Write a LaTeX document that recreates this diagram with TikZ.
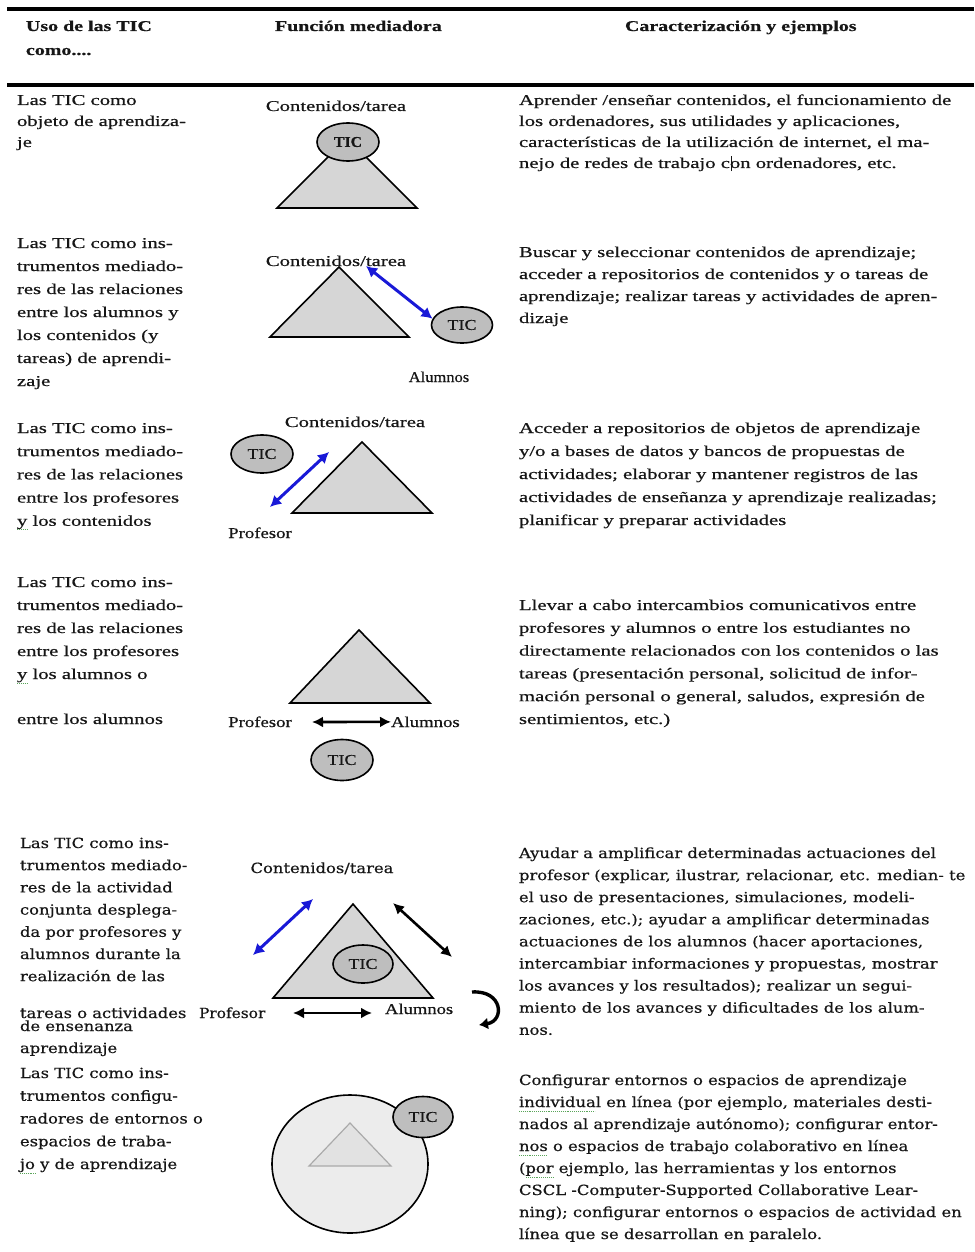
\documentclass[tikz,border=0pt]{standalone}
\usepackage{fontspec}
\setmainfont{Liberation Serif}[FakeBold=0.45]
\newfontfamily\dejaserif{DejaVu Serif}[FakeBold=0.45]
\usepackage{graphicx}
\usetikzlibrary{shapes.geometric,arrows.meta}
\definecolor{trifill}{RGB}{214,214,214}
\definecolor{ticfill}{RGB}{190,190,190}
\definecolor{arrblue}{RGB}{25,25,215}
\definecolor{envfill}{RGB}{236,236,236}
\definecolor{innerline}{RGB}{170,170,170}
\definecolor{innerfill}{RGB}{226,226,226}
\definecolor{txtcol}{RGB}{22,22,22}
\definecolor{spellgreen}{RGB}{90,165,90}
\newcommand\fTimes{\fontsize{15}{18}\selectfont}
\newcommand\fTimesB{\fontsize{15}{18}\selectfont\bfseries}
\newcommand\fDeja{\dejaserif\fontsize{14}{17}\selectfont}
\newcommand\tblock[7]{%
  \foreach \tline [count=\i] in {#7} {%
    \node[txt, font=#2, anchor=base west] (#1-\i) at (#4, {#5+(\i-1)*#6}) {\scalebox{#3}[1]{\tline}};
  }%
}
\begin{document}
\begin{tikzpicture}[x=1pt, y=-1pt,
  txt/.style={inner sep=0pt, outer sep=0pt, text=txtcol},
  lbl/.style={txt, anchor=base},
  hrule/.style={line width=3.5pt, draw=black},
  tri/.style={draw=black, line width=1.6pt, fill=trifill, line join=miter},
  tic/.style={ellipse, draw=black, line width=1.6pt, fill=ticfill, inner sep=0pt, font=\fTimes, text=txtcol},
  env/.style={ellipse, draw=black, line width=1.6pt, fill=envfill, inner sep=0pt},
  innertri/.style={draw=innerline, line width=1.2pt, fill=innerfill},
  bluearr/.style={draw=arrblue, line width=3pt, arrows={Latex[length=11pt,width=12pt]-Latex[length=11pt,width=12pt]}},
  blackarr/.style={draw=black, line width=2.6pt, arrows={Latex[length=11pt,width=11pt]-Latex[length=11pt,width=11pt]}},
  turnarr/.style={draw=black, line width=3.4pt, arrows={-Latex[length=9pt,width=12pt]}},
  spell/.style={draw=spellgreen, line width=0.9pt, densely dotted}
]
\useasboundingbox (0,0) rectangle (974,1252);
\fill[white] (0,0) rectangle (974,1252);

% header rules
\coordinate (r1a) at (7,9);   \coordinate (r1b) at (974,9);
\coordinate (r2a) at (7,85);  \coordinate (r2b) at (974,85);
\draw[hrule] (r1a) -- (r1b);
\draw[hrule] (r2a) -- (r2b);

% header
\node[txt, font=\fTimesB, anchor=base west] (h1) at (26,31) {\scalebox{1.33}[1]{Uso de las TIC}};
\node[txt, font=\fTimesB, anchor=base west] (h1b) at (26,55) {\scalebox{1.33}[1]{como....}};
\node[txt, font=\fTimesB, anchor=base west] (h2) at (275,31) {\scalebox{1.33}[1]{Función mediadora}};
\node[txt, font=\fTimesB, anchor=base west] (h3) at (625,31) {\scalebox{1.33}[1]{Caracterización y ejemplos}};

% ---------- row 1 ----------
\tblock{l1}{\fTimes}{1.38}{17}{105}{21}{{Las TIC como},{objeto de aprendiza-},{je}}
\tblock{c1}{\fTimes}{1.38}{519}{105}{21}{{Aprender /enseñar contenidos, el funcionamiento de},{los ordenadores, sus utilidades y aplicaciones,},{características de la utilización de internet, el ma-},{nejo de redes de trabajo c\rlap{\kern0.5pt\rule[-3pt]{0.8pt}{15pt}}on ordenadores, etc.}}
\coordinate (t1a) at (277,208); \coordinate (t1b) at (347,138); \coordinate (t1c) at (417,208);
\draw[tri] (t1a) -- (t1b) -- (t1c) -- cycle;
\node[lbl, font=\fTimes] (m1lab) at (336,111) {\scalebox{1.38}[1]{Contenidos/tarea}};
\node[tic, minimum width=62pt, minimum height=38pt, font=\fTimesB] (tic1) at (348,142) {\scalebox{1.05}[1]{TIC}};

% ---------- row 2 ----------
\tblock{l2}{\fTimes}{1.38}{17}{248}{23}{{Las TIC como ins-},{trumentos mediado-},{res de las relaciones},{entre los alumnos y},{los contenidos (y},{tareas) de aprendi-},{zaje}}
\tblock{c2}{\fTimes}{1.38}{519}{257}{22}{{Buscar y seleccionar contenidos de aprendizaje;},{acceder a repositorios de contenidos y o tareas de},{aprendizaje; realizar tareas y actividades de apren-},{dizaje}}
\coordinate (t2a) at (270,337); \coordinate (t2b) at (339,267); \coordinate (t2c) at (409,337);
\draw[tri] (t2a) -- (t2b) -- (t2c) -- cycle;
\node[lbl, font=\fTimes] (m2lab) at (336,266) {\scalebox{1.38}[1]{Contenidos/tarea}};
\node[tic, minimum width=61pt, minimum height=36pt] (tic2) at (462,325) {\scalebox{1.2}[1]{TIC}};
\node[lbl, font=\fTimes] (al2) at (439,382) {\scalebox{1.1}[1]{Alumnos}};
\coordinate (a2s) at (366,266);
\draw[bluearr] (a2s) -- (tic2.168);

% ---------- row 3 ----------
\tblock{l3}{\fTimes}{1.38}{17}{433}{23.2}{{Las TIC como ins-},{trumentos mediado-},{res de las relaciones},{entre los profesores},{y los contenidos}}
\tblock{c3}{\fTimes}{1.38}{519}{433}{23}{{Acceder a repositorios de objetos de aprendizaje},{y/o a bases de datos y bancos de propuestas de},{actividades; elaborar y mantener registros de las},{actividades de enseñanza y aprendizaje realizadas;},{planificar y preparar actividades}}
\coordinate (t3a) at (292,513); \coordinate (t3b) at (362,442); \coordinate (t3c) at (432,513);
\draw[tri] (t3a) -- (t3b) -- (t3c) -- cycle;
\node[lbl, font=\fTimes] (m3lab) at (355,427) {\scalebox{1.38}[1]{Contenidos/tarea}};
\node[tic, minimum width=62pt, minimum height=38pt] (tic3) at (262,454) {\scalebox{1.2}[1]{TIC}};
\node[lbl, font=\fTimes] (pr3) at (260,538) {\scalebox{1.25}[1]{Profesor}};
\coordinate (a3s) at (329,452); \coordinate (a3e) at (270,507);
\draw[bluearr] (a3s) -- (a3e);
\draw[spell] ([yshift=-4pt]l3-5.base west) -- ++(10,0);

% ---------- row 4 ----------
\tblock{l4}{\fTimes}{1.38}{17}{587}{23}{{Las TIC como ins-},{trumentos mediado-},{res de las relaciones},{entre los profesores},{y los alumnos o}}
\node[txt, font=\fTimes, anchor=base west] (l4b) at (17,724) {\scalebox{1.38}[1]{entre los alumnos}};
\tblock{c4}{\fTimes}{1.38}{519}{610}{22.8}{{Llevar a cabo intercambios comunicativos entre},{profesores y alumnos o entre los estudiantes no},{directamente relacionados con los contenidos o las},{tareas (presentación personal, solicitud de infor-},{mación personal o general, saludos, expresión de},{sentimientos, etc.)}}
\coordinate (t4a) at (290,703); \coordinate (t4b) at (359,630); \coordinate (t4c) at (430,703);
\draw[tri] (t4a) -- (t4b) -- (t4c) -- cycle;
\node[lbl, font=\fTimes] (pr4) at (260,727) {\scalebox{1.25}[1]{Profesor}};
\node[txt, font=\fTimes, anchor=base west] (al4) at (391,727) {\scalebox{1.25}[1]{Alumnos}};
\node[tic, minimum width=62pt, minimum height=41pt] (tic4) at (342,760) {\scalebox{1.2}[1]{TIC}};
\coordinate (a4s) at (312,722);
\draw[blackarr] (a4s) -- (al4.west);
\draw[spell] ([yshift=-4pt]l4-5.base west) -- ++(10,0);

% ---------- row 5 ----------
\tblock{l5}{\fDeja}{1.17}{20}{848}{22.2}{{Las TIC como ins-},{trumentos mediado-},{res de la actividad},{conjunta desplega-},{da por profesores y},{alumnos durante la},{realización de las}}
\node[txt, font=\fDeja, anchor=base west] (l5b) at (20,1018) {\scalebox{1.17}[1]{tareas o actividades}};
\node[txt, font=\fDeja, anchor=base west] (l5c) at (20,1031) {\scalebox{1.17}[1]{de ensenanza}};
\node[txt, font=\fDeja, anchor=base west] (l5d) at (20,1053) {\scalebox{1.17}[1]{aprendizaje}};
\tblock{c5}{\fDeja}{1.17}{519}{858}{22.1}{{Ayudar a amplificar determinadas actuaciones del},{profesor (explicar, ilustrar, relacionar, etc. median- te},{el uso de presentaciones, simulaciones, modeli-},{zaciones, etc.); ayudar a amplificar determinadas},{actuaciones de los alumnos (hacer aportaciones,},{intercambiar informaciones y propuestas, mostrar},{los avances y los resultados); realizar un segui-},{miento de los avances y dificultades de los alum-},{nos.}}
\coordinate (t5a) at (273,998); \coordinate (t5b) at (353,904); \coordinate (t5c) at (433,998);
\draw[tri] (t5a) -- (t5b) -- (t5c) -- cycle;
\node[lbl, font=\fDeja] (m5lab) at (322,873) {\scalebox{1.17}[1]{Contenidos/tarea}};
\node[tic, minimum width=60pt, minimum height=38pt] (tic5) at (363,964) {\scalebox{1.2}[1]{TIC}};
\node[txt, font=\fDeja, anchor=base west] (pr5) at (199,1018) {\scalebox{1.1}[1]{Profesor}};
\node[txt, font=\fTimes, anchor=base west] (al5) at (385,1014) {\scalebox{1.24}[1]{Alumnos}};
\coordinate (a5s) at (313,899); \coordinate (a5e) at (253,955);
\draw[bluearr] (a5s) -- (a5e);
\coordinate (b5s) at (393,903); \coordinate (b5e) at (452,957);
\draw[blackarr] (b5s) -- (b5e);
\coordinate (h5s) at (293,1013); \coordinate (h5e) at (372,1013);
\draw[blackarr] (h5s) -- (h5e);
\coordinate (cu1) at (472,992); \coordinate (cu2) at (503,990);
\coordinate (cu3) at (505,1021); \coordinate (cu4) at (479,1025);
\draw[turnarr] (cu1) .. controls (cu2) and (cu3) .. (cu4);

% ---------- row 6 ----------
\tblock{l6}{\fDeja}{1.17}{20}{1078}{22.75}{{Las TIC como ins-},{trumentos configu-},{radores de entornos o},{espacios de traba-},{jo y de aprendizaje}}
\tblock{c6}{\fDeja}{1.17}{519}{1085}{22}{{Configurar entornos o espacios de aprendizaje},{individual en línea (por ejemplo, materiales desti-},{nados al aprendizaje autónomo); configurar entor-},{nos o espacios de trabajo colaborativo en línea},{(por ejemplo, las herramientas y los entornos},{CSCL -Computer-Supported Collaborative Lear-},{ning); configurar entornos o espacios de actividad en},{línea que se desarrollan en paralelo.}}
\node[env, minimum width=156pt, minimum height=138pt] (env6) at (350,1164) {};
\coordinate (t6a) at (309,1166); \coordinate (t6b) at (350,1123); \coordinate (t6c) at (391,1166);
\draw[innertri] (t6a) -- (t6b) -- (t6c) -- cycle;
\node[tic, minimum width=60pt, minimum height=41pt] (tic6) at (423,1117) {\scalebox{1.2}[1]{TIC}};
\draw[spell] ([yshift=-4pt]l6-5.base west) -- ++(17,0);
\draw[spell] ([yshift=-4pt]c6-2.base west) -- ++(76,0);
\draw[spell] ([yshift=-4pt]c6-4.base west) -- ++(28,0);
\draw[spell] ([xshift=7pt,yshift=-4pt]c6-5.base west) -- ++(28,0);
\end{tikzpicture}
\end{document}
